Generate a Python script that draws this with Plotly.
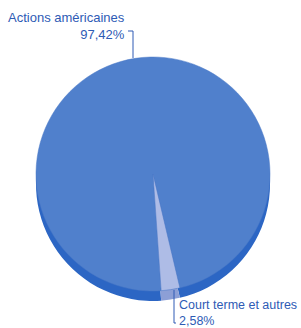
import plotly.graph_objects as go

labels = ["Actions américaines", "Court terme et autres"]
values = [97.42, 2.58]
pct_text = ["97,42%", "2,58%"]

W, H = 301, 328
cx, cy, r = 153, 174, 117
depth = 10

def dom(cx, cy, r):
    return dict(x=[(cx - r) / W, (cx + r) / W], y=[1 - (cy + r) / H, 1 - (cy - r) / H])

top_colors = ["#5080CC", "#AEBCE6"]
side_colors = ["#2C66C4", "#8C9FD6"]

fig = go.Figure()
fig.add_trace(go.Pie(labels=labels, values=values, sort=False, direction="clockwise",
                     rotation=176, textinfo="none", hoverinfo="skip", showlegend=False,
                     marker=dict(colors=side_colors, line=dict(width=0)),
                     domain=dom(cx, cy + depth, r)))
fig.add_trace(go.Pie(labels=labels, values=values, sort=False, direction="clockwise",
                     rotation=176, textinfo="none", showlegend=False,
                     marker=dict(colors=top_colors, line=dict(color="#4A78C6", width=0.5)),
                     domain=dom(cx, cy, r)))

txt_color = "#2E5BB5"
font = dict(family="Liberation Sans, Arial", size=13, color=txt_color)
font_small = dict(family="Liberation Sans, Arial", size=12.5, color=txt_color)

fig.add_annotation(xref="paper", yref="paper", x=127 / W, y=1 - 26 / H,
                   xanchor="right", yanchor="middle", align="right", showarrow=False,
                   text=f"{labels[0]}<br>{pct_text[0]}", font=font)
fig.add_annotation(xref="paper", yref="paper", x=177 / W, y=1 - 330 / H,
                   xanchor="left", yanchor="bottom", align="left", showarrow=False,
                   text=f"{labels[1]}<br>{pct_text[1]}", font=font_small)

line = dict(color=txt_color, width=1)
def seg(x0, y0, x1, y1):
    fig.add_shape(type="line", xref="paper", yref="paper",
                  x0=x0 / W, y0=1 - y0 / H, x1=x1 / W, y1=1 - y1 / H, line=line)

seg(128, 31, 133, 31)
seg(133, 31, 133, 58)
seg(174, 290, 174, 323)
seg(174, 323, 176, 323)

fig.update_layout(width=W, height=H, margin=dict(l=0, r=0, t=0, b=0),
                  paper_bgcolor="white", plot_bgcolor="white")
fig.write_html("out.html", config={"displayModeBar": False},
               post_script="document.body.style.margin='0';")
